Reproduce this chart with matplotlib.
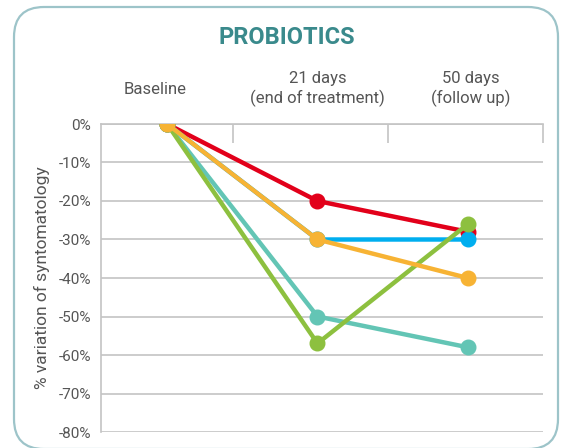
import numpy as np
import matplotlib
matplotlib.use("Agg")
import matplotlib.pyplot as plt
from matplotlib.patches import FancyBboxPatch
from matplotlib.transforms import IdentityTransform

# data
categories = ["Baseline", "21 days\n(end of treatment)", "50 days\n(follow up)"]
red = [0, -20, -28]
blue = [0, -30, -30]
teal = [0, -50, -58]
green = [0, -57, -26]
orange = [0, -30, -40]
yticks = [0, -10, -20, -30, -40, -50, -60, -70, -80]
ytick_labels = ["0%", "-10%", "-20%", "-30%", "-40%", "-50%", "-60%", "-70%", "-80%"]

plt.rcParams['font.family'] = ['Roboto', 'DejaVu Sans']

fig = plt.figure(figsize=(5.69, 4.48), dpi=100)
ax = fig.add_axes([101/569, 1 - 432/448, 442/569, 308/448])

x = np.arange(len(categories))
series = [(red, "#E2001A"), (blue, "#00AEEF"), (teal, "#63C5B5"),
          (green, "#8DC03F"), (orange, "#F7B334")]
for vals, col in series:
    ax.plot(x, vals, color=col, lw=3.2, marker="o", ms=10.5,
            solid_capstyle="round", zorder=3)

ax.set_ylim(-80, 0)
ax.set_xlim(-0.44, 2.5)
ax.set_yticks(yticks)
ax.set_yticklabels(ytick_labels, fontsize=11, color="#555555")
ax.tick_params(axis="y", length=0, pad=7)
ax.grid(axis="y", color="#C4C4C4", lw=1.2, zorder=0)

# category labels on top (slightly off the points, like the original), separators as ticks
ax.xaxis.tick_top()
ax.set_xticks(x + np.array([-0.08, 0.0, 0.02]))
ax.set_xticklabels(categories, fontsize=12, color="#555555", va="center",
                   linespacing=1.25)
ax.tick_params(axis="x", which="major", length=0, pad=25)
ax.set_xticks([0.44, 1.47, 2.5], minor=True)
ax.tick_params(axis="x", which="minor", direction="in", length=14, width=1.2, color="#C4C4C4")

for s in ["right", "bottom"]:
    ax.spines[s].set_visible(False)
for s in ["left", "top"]:
    ax.spines[s].set_color("#C4C4C4")
    ax.spines[s].set_linewidth(1.2)

ax.set_ylabel("% variation of syntomatology", fontsize=12.5, color="#555555", labelpad=6)

fig.text(287/569, 1 - 37/448, "PROBIOTICS", ha="center", va="center",
         fontsize=17, fontweight="bold", color="#3A8A8C")

box = FancyBboxPatch((14, -1), 544, 442, boxstyle="round,pad=0,rounding_size=30",
                     transform=IdentityTransform(), fill=False,
                     edgecolor="#9DC4C9", lw=1.6)
fig.patches.append(box)

fig.savefig("out.png", dpi=100)
